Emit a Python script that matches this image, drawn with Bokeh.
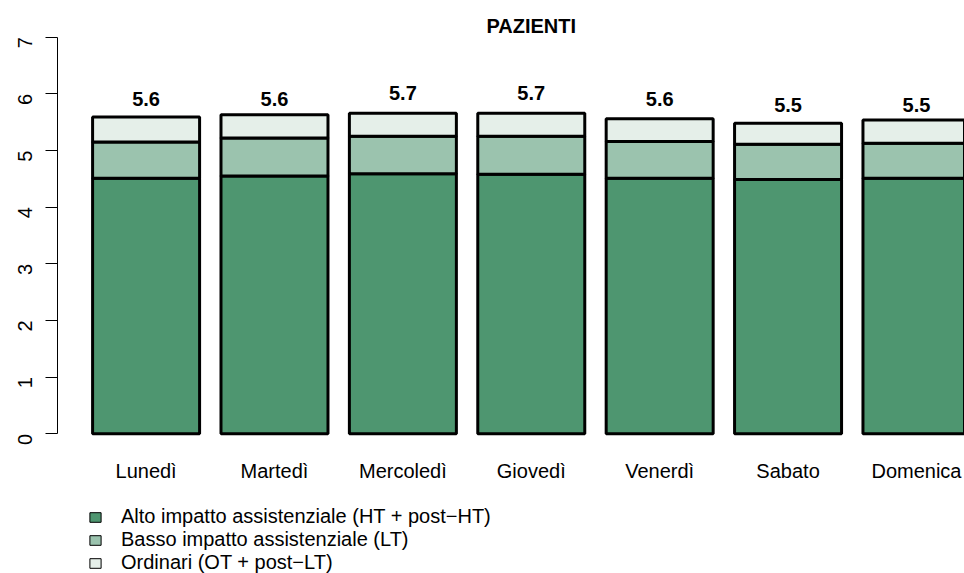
import math
from bokeh.plotting import figure
from bokeh.models import (Range1d, LinearAxis, FixedTicker, Legend, LegendItem,
                          Label, ColumnDataSource)
from bokeh.core.properties import value
from bokeh.embed import file_html
from bokeh.resources import INLINE

# ---------------- data ----------------
days = ["Lunedì", "Martedì", "Mercoledì", "Giovedì", "Venerdì", "Sabato", "Domenica"]
alto = [4.51, 4.55, 4.59, 4.58, 4.51, 4.49, 4.51]
basso = [0.64, 0.67, 0.66, 0.67, 0.65, 0.62, 0.62]
ordinari = [0.44, 0.41, 0.41, 0.41, 0.40, 0.37, 0.41]
series_labels = ["Alto impatto assistenziale (HT + post−HT)",
                 "Basso impatto assistenziale (LT)",
                 "Ordinari (OT + post−LT)"]
y_ticks = [0, 1, 2, 3, 4, 5, 6, 7]
title_text = "PAZIENTI"

# ---------------- style / layout ----------------
colors = ["#4E9670", "#9BC3AE", "#E5EFE9"]
FONT = "Liberation Sans"
bar_width = 1.0
space = 0.2
W, H = 964, 573
LEFT = 57
X_START, X_END = -0.128, 8.349
Y_START, Y_END = -2.466, 7.648
DAY_LABEL_Y = -0.665
TITLE_Y = 7.206
VALUE_OFFSET = 0.31

xs = [round(space + bar_width / 2 + i * (bar_width + space), 3) for i in range(len(days))]
totals = [a + b + c for a, b, c in zip(alto, basso, ordinari)]
lab_y = [round(t, 1) + VALUE_OFFSET for t in totals]
lab_txt = [f"{t:.1f}" for t in totals]

src = ColumnDataSource(dict(x=xs, alto=alto, basso=basso, ordinari=ordinari))

p = figure(width=W, height=H,
           x_range=Range1d(X_START, X_END), y_range=Range1d(Y_START, Y_END),
           output_backend="svg", toolbar_location=None,
           x_axis_type=None, y_axis_type=None,
           min_border_left=LEFT, min_border_right=0,
           min_border_top=0, min_border_bottom=0)
p.outline_line_color = None
p.background_fill_color = "white"
p.border_fill_color = "white"

# legend swatch renderers (thin outline), zero height: hidden under the bars' base line
legend_renderers = []
for c in colors:
    legend_renderers.append(
        p.vbar(x="x", bottom=0, top=0, width=bar_width, source=src,
               fill_color=c, line_color="black", line_width=1))

p.vbar_stack(["alto", "basso", "ordinari"], x="x", width=bar_width, source=src,
             fill_color=colors, line_color="black", line_width=3)

# totals above the bars
p.text(x=xs, y=lab_y, text=lab_txt, text_align="center", text_baseline="middle",
       text_font=value(FONT), text_font_style="bold", text_font_size="20px",
       text_color="black")

# day names under the bars
p.text(x=xs, y=[DAY_LABEL_Y] * len(days), text=days, text_align="center",
       text_baseline="middle", text_font=value(FONT), text_font_size="20px",
       text_color="black")

# y axis (R style)
yaxis = LinearAxis(ticker=FixedTicker(ticks=y_ticks), bounds=(0, 7),
                   major_tick_out=12, major_tick_in=0,
                   minor_tick_out=0, minor_tick_in=0,
                   major_label_orientation=math.pi / 2,
                   major_label_standoff=20,
                   major_label_text_font=FONT, major_label_text_font_size="20px",
                   major_label_text_color="black",
                   axis_line_color="black", axis_line_width=1,
                   major_tick_line_color="black", major_tick_line_width=1)
p.add_layout(yaxis, "left")

# title
p.add_layout(Label(x=(X_START + 8.728) / 2, y=TITLE_Y, x_units="data", y_units="data",
                   text=title_text, text_font=FONT, text_font_style="bold",
                   text_font_size="20px", text_align="center", text_baseline="middle",
                   text_color="black"))

# legend
items = [LegendItem(label=lab, renderers=[r]) for lab, r in zip(series_labels, legend_renderers)]
legend = Legend(items=items, location=(31, -1), orientation="vertical",
                glyph_width=14, glyph_height=12, label_height=23, spacing=0,
                label_standoff=19, padding=0, margin=0,
                border_line_color=None, background_fill_alpha=0,
                label_text_font=FONT, label_text_font_size="20px",
                label_text_color="black")
p.add_layout(legend)

open("out.html", "w").write(file_html(p, INLINE))
